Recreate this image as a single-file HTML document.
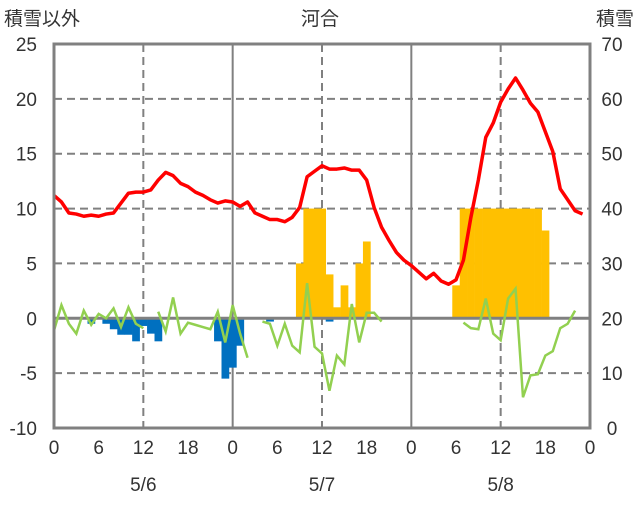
<!DOCTYPE html>
<html><head><meta charset="utf-8"><style>
body{margin:0;background:#fff}
svg text{font-family:"Liberation Sans","Noto Sans CJK JP",sans-serif;fill:#333}
</style></head><body>
<svg id="chart" width="636" height="501">
<g id="grid"></g><g id="bars"></g><g id="lines"></g><g id="frame"></g><g id="labels"></g>
</svg>
<script>
const hours = Array.from({length:72},(_,i)=>i);
const redValues=[11.2,10.6,9.6,9.5,9.3,9.4,9.3,9.5,9.6,10.5,11.4,11.5,11.5,11.7,12.6,13.3,13.0,12.3,12.0,11.5,11.2,10.8,10.5,10.7,10.6,10.2,10.6,9.6,9.3,9.0,9.0,8.8,9.2,10.1,12.9,13.4,13.9,13.6,13.6,13.7,13.5,13.5,12.6,10.1,8.3,7.1,6.0,5.3,4.8,4.2,3.6,4.1,3.4,3.1,3.5,5.3,9.2,12.6,16.5,17.8,19.7,20.9,21.9,20.8,19.6,18.8,17.0,15.2,11.8,10.8,9.8,9.5];
const greenValues=[-1.1,1.2,-0.5,-1.4,0.7,-0.6,0.4,0,0.9,-0.8,1.0,-0.5,-0.9,null,0.6,-1.2,1.9,-1.4,-0.4,-0.6,-0.8,-1.0,0.6,-2.2,1.2,-1.4,-3.6,null,-0.3,-0.5,-2.5,-0.5,-2.5,-3.1,3.2,-2.6,-3.2,-6.6,-3.4,-4.2,1.3,-2.2,0.5,0.5,-0.3,null,null,null,null,null,null,null,null,null,null,-0.4,-0.9,-1.0,1.8,-1.4,-2.0,1.8,2.7,-7.2,-5.2,-5.1,-3.4,-3.0,-0.9,-0.5,0.7,null];
const blueHours=[5,7,8,9,10,11,12,13,14,22,23,24,25,29,37];
const blueValues=[-0.5,-0.5,-1.0,-1.5,-1.5,-2.1,-0.7,-1.4,-2.1,-2.1,-5.5,-4.5,-2.5,-0.3,-0.3];
const orangeHours=[33,34,35,36,37,38,39,40,41,42,54,55,56,57,58,59,60,61,62,63,64,65,66];
const orangeValues=[5,10,10,10,4,1,3,1,5,7,3,10,10,10,10,10,10,10,10,10,10,10,8];
const leftTicks=[25,20,15,10,5,0,-5,-10];
const rightTicks=[70,60,50,40,30,20,10,0];
const xTickLabels=["0","6","12","18","0","6","12","18","0","6","12","18","0"];
const dateLabels=["5/6","5/7","5/8"];

const X0=54,X1=590,Y0=44,Y1=428;
const xs=h=>X0+h*(X1-X0)/72;
const yL=v=>Y0+(25-v)*(Y1-Y0)/35;
const yR=v=>Y0+(70-v)*(Y1-Y0)/70;
const NS="http://www.w3.org/2000/svg";
function mk(tag,attrs,parent){const e=document.createElementNS(NS,tag);for(const k in attrs)e.setAttribute(k,attrs[k]);document.getElementById(parent).appendChild(e);return e;}

// grid
leftTicks.forEach(v=>{if(v===25||v===-10||v===0)return;
 const l=mk('line',{x1:X0,x2:X1,y1:yL(v),y2:yL(v),stroke:'#808080','stroke-width':2,'stroke-dasharray':'8,5'},'grid');
 
 });
[12,36,60].forEach(h=>{const l=mk('line',{x1:xs(h),x2:xs(h),y1:Y0,y2:Y1,stroke:'#808080','stroke-width':2,'stroke-dasharray':'8,5'},'grid');
 
 });
[24,48].forEach(h=>{const l=mk('line',{x1:xs(h),x2:xs(h),y1:Y0,y2:Y1,stroke:'#808080','stroke-width':2},'grid');
 
 });

// bars
const bw=(X1-X0)/72;
blueHours.forEach((h,i)=>{const v=blueValues[i];
 const r=mk('rect',{x:xs(h)-bw/2,y:yL(0),width:bw+0.3,height:yL(v)-yL(0),fill:'#0070C0'},'bars');
 
 });
orangeHours.forEach((h,i)=>{const v=orangeValues[i];
 const r=mk('rect',{x:xs(h)-bw/2,y:yL(v),width:bw+0.3,height:yL(0)-yL(v),fill:'#FFC000'},'bars');
 
 });

// zero line
const z=mk('line',{x1:X0,x2:X1,y1:yL(0),y2:yL(0),stroke:'#808080','stroke-width':3},'lines');



// green line segments
let segs=[],cur=[];
greenValues.forEach((v,i)=>{if(v===null){if(cur.length)segs.push(cur);cur=[];}else cur.push(xs(i)+','+yL(v));});
if(cur.length)segs.push(cur);
segs.forEach(s=>{const p=mk('polyline',{points:s.join(' '),fill:'none',stroke:'#92D050','stroke-width':2.5},'lines');
 
 });
const red=mk('polyline',{points:redValues.map((v,i)=>xs(i)+','+yL(v)).join(' '),fill:'none',stroke:'#FF0000','stroke-width':3.5,'stroke-linejoin':'round'},'lines');



// frame
const f=mk('rect',{x:X0,y:Y0,width:X1-X0,height:Y1-Y0,fill:'none',stroke:'#808080','stroke-width':3},'frame');



// labels
leftTicks.forEach(v=>{const t=mk('text',{x:37,y:yL(v)+7,'text-anchor':'end','font-size':19},'labels');t.textContent=v;
 
 });
rightTicks.forEach(v=>{const t=mk('text',{x:612,y:yR(v)+7,'text-anchor':'middle','font-size':19},'labels');t.textContent=v;
 
 });
xTickLabels.forEach((s,i)=>{const t=mk('text',{x:xs(i*6),y:454,'text-anchor':'middle','font-size':19},'labels');t.textContent=s;
 
 });
dateLabels.forEach((s,i)=>{const t=mk('text',{x:xs(12+24*i),y:491,'text-anchor':'middle','font-size':19},'labels');t.textContent=s;
 
 });
[[4,'start','積雪以外','left-axis-title'],[320,'middle','河合','chart-title'],[634,'end','積雪','right-axis-title']].forEach(a=>{
 const t=mk('text',{x:a[0],y:25,'text-anchor':a[1],'font-size':19},'labels');t.textContent=a[2];
 
 });
</script>
</body></html>
